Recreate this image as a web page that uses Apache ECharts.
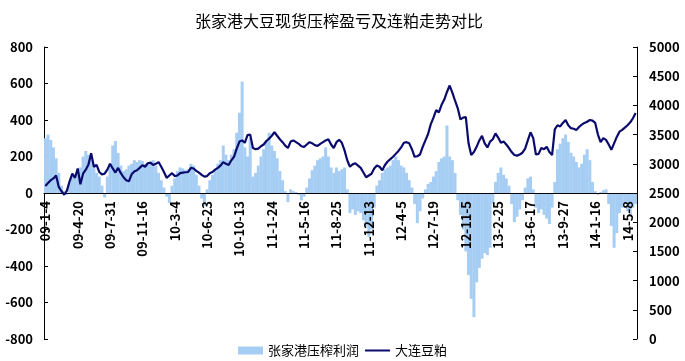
<!DOCTYPE html>
<html><head><meta charset="utf-8">
<script src="https://cdn.jsdelivr.net/npm/echarts@6/dist/echarts.min.js"></script>
<style>html,body{margin:0;padding:0;background:#fff}#c{width:685px;height:361px}</style>
</head><body><div id="c"></div>
<script>
const tickLabels = ['09-1-4','09-4-20','09-7-31','09-11-16','10-3-4','10-6-23','10-10-13','11-1-24','11-5-16','11-8-25','11-12-13','12-4-5','12-7-19','12-11-5','13-2-25','13-6-17','13-9-27','14-1-16','14-5-8'];
const pointsPerTick = 12;

const crushProfit = [
 300,320,290,250,190,110,40,10,-10,60,90,100,
 120,140,200,230,210,200,160,110,90,40,-25,90,
 160,260,285,220,150,120,130,150,160,180,170,180,
 175,160,165,170,180,150,110,70,30,-20,-55,40,
 80,120,140,135,125,130,160,150,100,40,-30,-70,
 20,70,100,130,160,180,260,210,180,210,240,330,
 440,610,250,200,300,90,110,150,200,240,290,330,
 260,230,190,120,70,10,-50,20,10,5,-10,-40,
 -20,30,80,125,150,180,190,200,250,200,140,110,
 140,120,130,140,20,-110,-90,-120,-100,-110,-150,-180,
 -240,-200,-80,40,70,110,130,140,150,180,200,180,
 150,140,110,70,30,-60,-165,-100,-30,20,50,60,
 90,120,170,190,200,370,200,180,110,-40,-120,-200,
 -320,-450,-580,-680,-490,-410,-360,-330,-340,-300,-60,60,
 110,140,100,80,40,-60,-160,-130,-90,-40,30,80,
 90,20,-80,-110,-90,-120,-140,-170,-80,60,240,270,
 300,320,280,220,200,170,140,160,210,240,180,60,
 10,-10,5,15,20,-60,-180,-300,-220,-110,-80,-60,
 -100,-120,-80,-60
];

const mealPrice = [
 2620,2670,2720,2750,2800,2600,2530,2470,2540,2700,2830,2760,
 2920,2650,2830,2900,2990,3180,2950,2980,2860,2820,2830,2900,
 3000,2920,2850,2930,2840,2770,2720,2700,2820,2870,2890,2930,
 2975,2950,3010,3020,2980,3000,3030,2950,2860,2760,2800,2840,
 2790,2800,2840,2850,2855,2860,2930,2920,2880,2850,2810,2780,
 2790,2840,2860,2900,2930,2970,3030,3000,2980,3060,3120,3260,
 3380,3400,3360,3490,3500,3270,3250,3260,3300,3330,3390,3430,
 3480,3540,3480,3420,3370,3310,3270,3380,3400,3370,3340,3300,
 3290,3330,3370,3350,3320,3305,3340,3370,3400,3420,3330,3270,
 3370,3410,3360,3230,3060,2950,2990,3010,2970,2930,2850,2770,
 2800,2830,2920,2970,2950,2890,2980,3040,3080,3120,3170,3220,
 3280,3360,3370,3350,3250,3120,3130,3160,3290,3400,3510,3680,
 3790,3920,3880,4010,4100,4230,4340,4220,4080,3950,3760,3790,
 3800,3350,3150,3200,3290,3400,3480,3350,3280,3380,3420,3520,
 3450,3360,3380,3330,3270,3200,3150,3140,3160,3190,3260,3400,
 3540,3440,3160,3170,3270,3250,3290,3200,3150,3590,3660,3640,
 3700,3750,3660,3610,3600,3580,3630,3670,3700,3720,3750,3740,
 3700,3500,3370,3440,3410,3330,3240,3350,3460,3550,3580,3620,
 3660,3710,3780,3870
];

const categories = crushProfit.map((_, i) => i % pointsPerTick === 0 ? tickLabels[i / pointsPerTick] : 'p' + i);

const font = '"Noto Sans CJK SC", "Noto Sans", sans-serif';
const chart = echarts.init(document.getElementById('c'));
chart.setOption({
  animation: false,
  title: {
    text: '张家港大豆现货压榨盈亏及连粕走势对比',
    left: 190, top: 8,
    textStyle: { fontSize: 16, fontWeight: 'normal', color: '#000', fontFamily: font }
  },
  legend: {
    bottom: -1, left: 'center',
    itemWidth: 25, itemHeight: 8, itemGap: 6,
    textStyle: { fontSize: 13, color: '#000', fontFamily: font },
    data: [
      { name: '张家港压榨利润', icon: 'rect' },
      { name: '大连豆粕', icon: 'path://M0,0 L25,0 L25,2 L0,2 Z' }
    ]
  },
  grid: { left: 44, right: 48, top: 47, bottom: 22, containLabel: false, outerBoundsMode: 'none' },
  xAxis: {
    type: 'category',
    data: categories,
    boundaryGap: true,
    position: 'bottom',
    offset: -146,
    z: 2,
    axisLine: { onZero: false, lineStyle: { color: '#000', width: 1 } },
    axisTick: { show: false },
    axisLabel: {
      interval: pointsPerTick - 1,
      hideOverlap: false,
      showMaxLabel: true,
      rotate: 90,
      margin: 8,
      color: '#000', fontSize: 13, fontWeight: 'bold', fontFamily: font,
      formatter: v => v.charAt(0) === 'p' ? '' : v
    },
    splitLine: { show: false }
  },
  yAxis: [
    {
      type: 'value', min: -800, max: 800, interval: 200,
      axisLine: { show: true, lineStyle: { color: '#000' } },
      axisTick: { show: true, inside: true, length: 4, lineStyle: { color: '#000' } },
      axisLabel: { color: '#000', fontSize: 13, fontWeight: 'bold', fontFamily: font, margin: 11, formatter: v => String(v) },
      splitLine: { show: false }
    },
    {
      type: 'value', min: 0, max: 5000, interval: 500,
      axisLine: { show: true, lineStyle: { color: '#000' } },
      axisTick: { show: true, inside: true, length: 4, lineStyle: { color: '#000' } },
      axisLabel: { color: '#000', fontSize: 13, fontWeight: 'bold', fontFamily: font, margin: 12, formatter: v => String(v) },
      splitLine: { show: false }
    }
  ],
  series: [
    {
      name: '张家港压榨利润', type: 'bar', yAxisIndex: 0,
      data: crushProfit,
      barWidth: 3,
      itemStyle: { color: '#a6cdf4' },
      z: 1
    },
    {
      name: '大连豆粕', type: 'line', yAxisIndex: 1,
      data: mealPrice,
      symbol: 'none', showSymbol: false,
      lineStyle: { color: '#0b0b6e', width: 2.2 },
      itemStyle: { color: '#0b0b6e' },
      z: 3
    }
  ]
});
</script>
</body></html>
